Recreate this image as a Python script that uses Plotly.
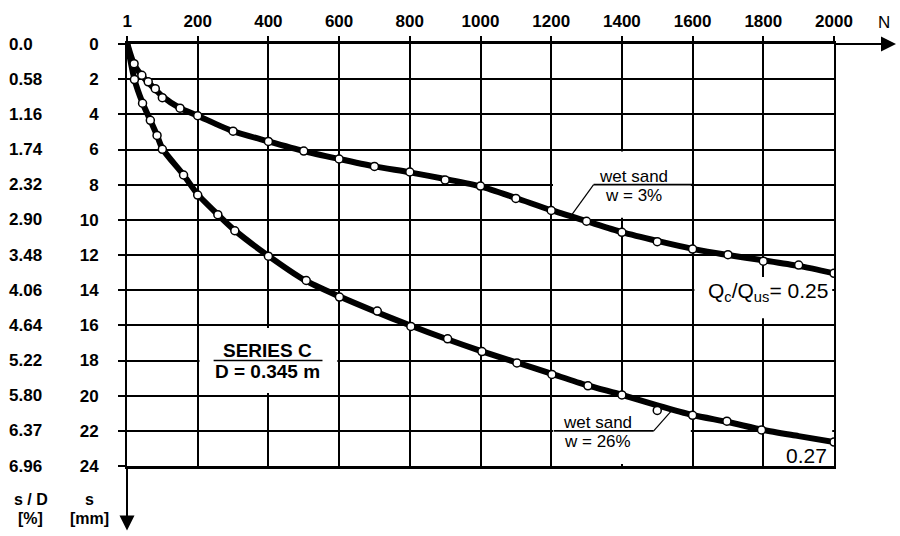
import plotly.graph_objects as go

# ---------------- data ----------------
n_ticks = [1, 200, 400, 600, 800, 1000, 1200, 1400, 1600, 1800, 2000]
n_tick_text = ["1", "200", "400", "600", "800", "1000", "1200", "1400", "1600", "1800", "2000"]
s_ticks = [0, 2, 4, 6, 8, 10, 12, 14, 16, 18, 20, 22, 24]
s_tick_text = ["0", "2", "4", "6", "8", "10", "12", "14", "16", "18", "20", "22", "24"]
sd_labels = ["0.0", "0.58", "1.16", "1.74", "2.32", "2.90", "3.48", "4.06",
             "4.64", "5.22", "5.80", "6.37", "6.96"]

# measured points, wet sand w = 3%
upper_n = [20, 42, 60, 80, 100, 150, 200, 300, 400, 500, 600, 700, 800, 900,
           1000, 1100, 1200, 1300, 1400, 1500, 1600, 1700, 1800, 1900, 2000]
upper_s = [1.12, 1.78, 2.15, 2.54, 3.05, 3.65, 4.08, 4.96, 5.54, 6.09, 6.54, 6.96, 7.28, 7.74,
           8.08, 8.78, 9.47, 10.08, 10.71, 11.24, 11.66, 11.98, 12.35, 12.57, 13.04]
# fitted curve, wet sand w = 3%
upper_fit_n = [1, 20, 42, 60, 80, 100, 150, 200, 300, 400, 500, 600, 700, 800, 900,
               1000, 1100, 1200, 1300, 1400, 1500, 1600, 1700, 1800, 1900, 2000]
upper_fit_s = [0.0, 1.15, 1.8, 2.18, 2.58, 2.98, 3.65, 4.08, 4.96, 5.54, 6.09, 6.54, 6.96, 7.3, 7.68,
               8.1, 8.76, 9.45, 10.08, 10.7, 11.2, 11.65, 12.0, 12.3, 12.62, 13.04]

# measured points, wet sand w = 26%
lower_n = [21, 44, 66, 85, 100, 160, 200, 257, 305, 400, 507, 601, 708, 803, 907,
           1004, 1103, 1202, 1304, 1400, 1500, 1600, 1697, 1795, 2000]
lower_s = [2.02, 3.37, 4.34, 5.2, 5.99, 7.45, 8.59, 9.71, 10.62, 12.07, 13.45, 14.39, 15.19, 16.06, 16.77,
           17.49, 18.14, 18.79, 19.44, 19.96, 20.84, 21.12, 21.45, 21.95, 22.64]
# fitted curve, wet sand w = 26%
lower_fit_n = [1, 21, 44, 66, 85, 100, 160, 200, 257, 305, 400, 500, 600, 700, 800, 900,
               1000, 1100, 1200, 1300, 1400, 1500, 1600, 1700, 1800, 1900, 2000]
lower_fit_s = [0.0, 2.0, 3.35, 4.34, 5.2, 5.95, 7.45, 8.55, 9.7, 10.6, 12.05, 13.4, 14.35, 15.2, 16.0, 16.75,
               17.45, 18.1, 18.75, 19.4, 19.95, 20.55, 21.1, 21.5, 21.95, 22.3, 22.64]

FONT = "Liberation Sans, Arial, Helvetica, sans-serif"
fig = go.Figure()

for fn, fs in [(upper_fit_n, upper_fit_s), (lower_fit_n, lower_fit_s)]:
    fig.add_trace(go.Scatter(x=fn, y=fs, mode="lines",
                             line=dict(color="black", width=6, shape="spline", smoothing=0.7),
                             hoverinfo="skip"))
for pn, ps in [(upper_n, upper_s), (lower_n, lower_s)]:
    fig.add_trace(go.Scatter(x=pn, y=ps, mode="markers",
                             marker=dict(symbol="circle", size=8, color="white",
                                         line=dict(color="black", width=1.5))))

# white boxes hiding grid lines behind labels (above grid, below traces)
boxes = [
    (205, 595, 16.15, 19.85),    # SERIES C
    (1205, 1595, 6.12, 9.88),    # wet sand w = 3%
    (1605, 1995, 13.25, 15.6),   # Qc/Qus
    (1205, 1595, 20.1, 23.88),   # wet sand w = 26%
    (1805, 1995, 21.9, 23.88),   # 0.27
]
shapes = []
for x0, x1, y0, y1 in boxes:
    shapes.append(dict(type="rect", xref="x", yref="y", x0=x0, x1=x1, y0=y0, y1=y1,
                       fillcolor="white", line=dict(width=0), layer="between"))

# label rules and leaders
lines = [
    (245, 553, 18.0, 18.0, 1.6),
    (1320, 1600, 8.0, 8.0, 1.6),
    (1320, 1258, 8.0, 9.72, 1.2),
    (1207, 1490, 22.0, 22.0, 1.6),
    (1490, 1545, 22.0, 20.75, 1.2),
]
for x0, x1, y0, y1, w in lines:
    shapes.append(dict(type="line", xref="x", yref="y", x0=x0, x1=x1, y0=y0, y1=y1,
                       line=dict(color="black", width=w), layer="between"))

fig.update_layout(shapes=shapes)

ann = []
def txt(x, y, t, size=16, xref="x", yref="y", xanchor="center", yanchor="middle", weight="bold"):
    ann.append(dict(x=x, y=y, xref=xref, yref=yref, text=t, showarrow=False,
                    xanchor=xanchor, yanchor=yanchor,
                    font=dict(family=FONT, size=size, color="black", weight=weight)))

txt(397, 17.42, "SERIES C", 19)
txt(397, 18.6, "D = 0.345 m", 19)
txt(1433, 7.55, "wet sand", 17, weight="normal")
txt(1433, 8.62, "w = 3%", 17, weight="normal")
txt(1331, 21.5, "wet sand", 17, weight="normal")
txt(1331, 22.6, "w = 26%", 17, weight="normal")
txt(1812, 14.1, "Q<sub>c</sub>/Q<sub>us</sub>= 0.25", 21, weight="normal")
txt(1922, 23.4, "0.27", 21, weight="normal")

# s/D column
for v, lab in zip(s_ticks, sd_labels):
    txt(-0.1697, v, lab, 17, xref="paper", xanchor="left")

txt(-0.1358, -0.079, "s / D", 16, xref="paper", yref="paper")
txt(-0.1370, -0.1253, "[%]", 16, xref="paper", yref="paper")
txt(-0.0537, -0.079, "s", 16, xref="paper", yref="paper")
txt(-0.0537, -0.1253, "[mm]", 16, xref="paper", yref="paper")
txt(1.0707, 1.052, "N", 17, xref="paper", yref="paper", weight="normal")

# axis arrows
ann.append(dict(x=1.0877, y=1, xref="paper", yref="paper", ax=-62, ay=0, text="",
                showarrow=True, arrowhead=2, arrowsize=1.5, arrowwidth=2, arrowcolor="black"))
ann.append(dict(x=0, y=-0.153, xref="paper", yref="paper", ax=0, ay=-66, text="",
                showarrow=True, arrowhead=2, arrowsize=1.5, arrowwidth=2, arrowcolor="black"))

fig.update_layout(
    annotations=ann,
    width=900, height=536,
    margin=dict(l=127, r=66, t=35, b=70),
    paper_bgcolor="white", plot_bgcolor="white",
    showlegend=False,
    font=dict(family=FONT, size=16, color="black"),
)
fig.update_xaxes(side="top", range=[0, 2000], tickvals=n_ticks, ticktext=n_tick_text,
                 showgrid=True, gridcolor="black", gridwidth=1.6,
                 showline=True, linecolor="black", linewidth=2.5, mirror=True,
                 ticks="outside", ticklen=5, tickwidth=1.6, tickcolor="black",
                 zeroline=False, ticklabelstandoff=2,
                 tickfont=dict(family=FONT, size=17, color="black", weight="bold"))
fig.update_yaxes(range=[24, 0], tickvals=s_ticks, ticktext=s_tick_text,
                 showgrid=True, gridcolor="black", gridwidth=1.6,
                 showline=True, linecolor="black", linewidth=2, mirror=True,
                 ticks="outside", ticklen=7, tickwidth=1.6, tickcolor="black",
                 zeroline=False, ticklabelstandoff=16,
                 tickfont=dict(family=FONT, size=17, color="black", weight="bold"))

fig.write_html("out.html")
